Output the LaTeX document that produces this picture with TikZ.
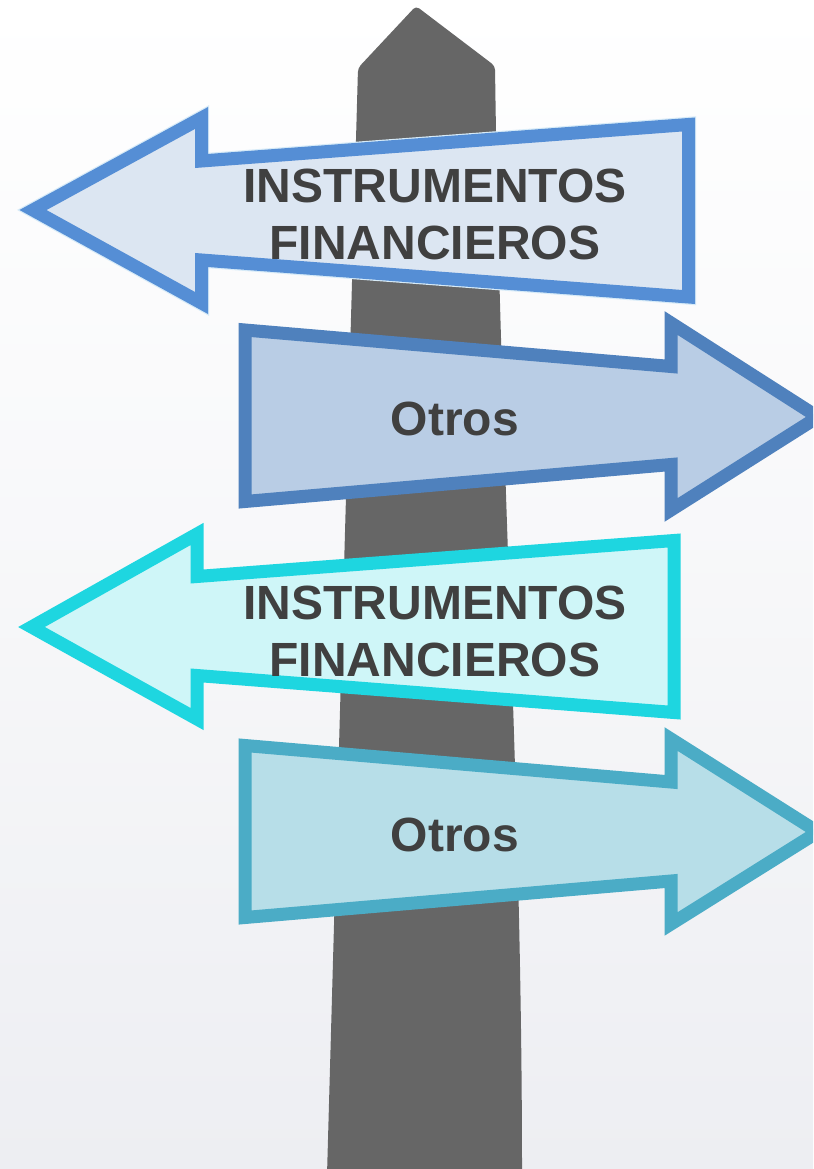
\documentclass[tikz,border=0pt]{standalone}
\usepackage{fontspec}
\setmainfont{Liberation Sans}
\definecolor{bgbot}{RGB}{237,238,242}
\definecolor{postgray}{RGB}{102,102,102}
\definecolor{txtgray}{RGB}{64,64,64}
\definecolor{aoneline}{RGB}{85,142,213}
\definecolor{aonefill}{RGB}{220,230,242}
\definecolor{atwoline}{RGB}{79,129,189}
\definecolor{atwofill}{RGB}{185,205,229}
\definecolor{athreeline}{RGB}{30,214,224}
\definecolor{athreefill}{RGB}{207,246,248}
\definecolor{afourline}{RGB}{75,172,198}
\definecolor{afourfill}{RGB}{183,222,232}
\definecolor{halo}{RGB}{215,235,248}
\tikzset{
  signarrow/.style={line width=9.75pt, line join=miter},
  halostyle/.style={draw=halo, line width=11.5pt, line join=miter},
  lbl/.style={font=\fontsize{36}{42.75}\selectfont\bfseries, text=txtgray, align=center, inner sep=0pt}
}
\begin{document}
\begin{tikzpicture}[x=0.75pt, y=-0.75pt]
\useasboundingbox (0,0) rectangle (813,1169);
\clip (0,0) rectangle (813,1169);
% background
\shade[top color=white, bottom color=bgbot, middle color=white!55!bgbot] (0,0) rectangle (813,1169);
% post
\fill[postgray, rounded corners=3pt] (327,1175) -- (358,68) -- (416,6) -- (495,66)
  .. controls (500,450) and (522,800) .. (522,1175) -- cycle;
% arrow 1 (left)
\draw[halostyle] (33,210) -- (201.5,118) -- (201.5,161) -- (688.5,124.5) -- (688.5,297) -- (201.5,260) -- (201.5,303) -- cycle;
\draw[signarrow, draw=aoneline, fill=aonefill] (33,210) -- (201.5,118) -- (201.5,161) -- (688.5,124.5) -- (688.5,297) -- (201.5,260) -- (201.5,303) -- cycle;
% arrow 2 (right)
\draw[signarrow, draw=atwoline, fill=atwofill] (245,330) -- (671,366.5) -- (671,323) -- (818,417) -- (671,510) -- (671,464.5) -- (245,501.5) -- cycle;
% arrow 3 (left)
\draw[signarrow, draw=athreeline, fill=athreefill] (31.5,627) -- (197,534) -- (197,576.5) -- (674,540.5) -- (674,712.5) -- (197,675.5) -- (197,719) -- cycle;
% arrow 4 (right)
\draw[signarrow, draw=afourline, fill=afourfill] (245,745.5) -- (671,782) -- (671,739) -- (818,832) -- (671,924) -- (671,881) -- (245,917.5) -- cycle;
% labels
\node[lbl] (t1) at (435,214) {INSTRUMENTOS\\FINANCIEROS};
\node[lbl, anchor=base] (t2) at (455,435) {Otros};
\node[lbl] (t3) at (435,631) {INSTRUMENTOS\\FINANCIEROS};
\node[lbl, anchor=base] (t4) at (455,851) {Otros};
\end{tikzpicture}
\end{document}
